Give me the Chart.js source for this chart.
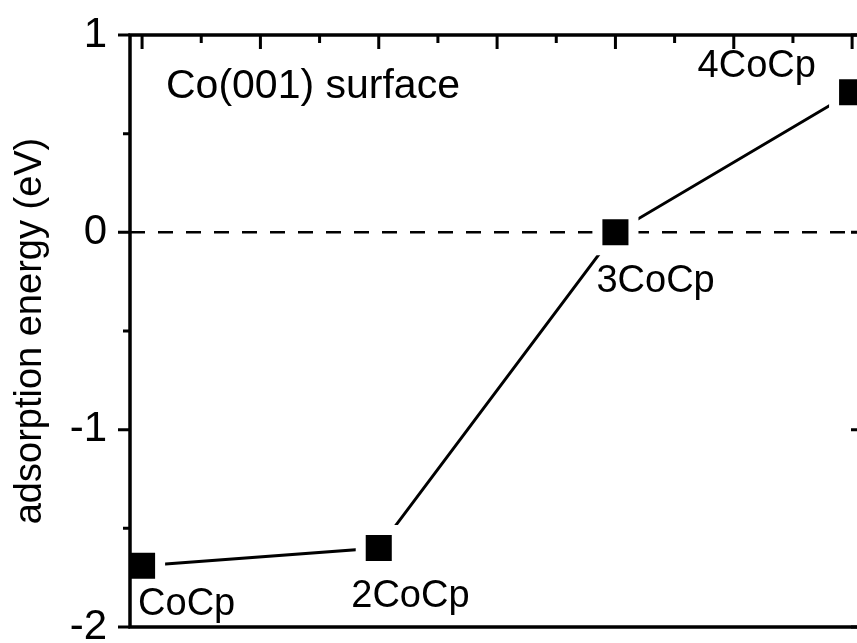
<!DOCTYPE html>
<html>
<head>
<meta charset="utf-8">
<script src="https://cdn.jsdelivr.net/npm/chart.js@4/dist/chart.umd.min.js"></script>
<style>
  html, body { margin: 0; padding: 0; background: #fff; overflow: hidden; }
  #wrap { position: relative; width: 857px; height: 643px; overflow: hidden; }
  #energy_chart { display: block; }
</style>
</head>
<body>
<div id="wrap"><canvas id="energy_chart" width="880" height="643"></canvas></div>
<script>
// adsorption energy vs number of CoCp molecules on Co(001)
const coverage = [1, 2, 3, 4];
const energies = [-1.69, -1.60, 0.00, 0.71];
const pointNames = ['CoCp', '2CoCp', '3CoCp', '4CoCp'];
const yMajor = [-2, -1, 0, 1];
const yMinor = [-1.5, -0.5, 0.5];
const xMajor = [1, 1.5, 2, 2.5, 3, 3.5, 4];
const xMinor = [1.25, 1.75, 2.25, 2.75, 3.25, 3.75];
const zeroLevel = 0;
const panelTitle = 'Co(001) surface';
const yTitle = 'adsorption energy (eV)';

const FONT = '"Liberation Sans", Arial, Helvetica, sans-serif';
// label position relative to its marker (left, baseline)
const labelOffsets = [[-4, 49], [-27.5, 59], [-19, 60], [-154.5, -15.5]];

const zeroLinePlugin = {
    id: 'zeroLine',
    beforeDatasetsDraw(chart) {
        const {ctx, chartArea: a, scales} = chart;
        const y = scales.y.getPixelForValue(zeroLevel);
        ctx.save();
        ctx.strokeStyle = '#000';
        ctx.lineWidth = 2.5;
        ctx.setLineDash([15, 13]);
        ctx.beginPath();
        ctx.moveTo(a.left, y);
        ctx.lineTo(a.right, y);
        ctx.stroke();
        ctx.restore();
    }
};

const framePlugin = {
    id: 'frame',
    afterDatasetsDraw(chart) {
        const {ctx, chartArea: a, scales} = chart;
        const xs = scales.x, ys = scales.y;
        ctx.save();
        ctx.strokeStyle = '#000';
        ctx.lineWidth = 3.5;
        ctx.strokeRect(a.left, a.top, a.right - a.left, a.bottom - a.top);

        ctx.lineWidth = 3;
        ctx.beginPath();
        // left axis: ticks out, right axis: major ticks in
        yMajor.forEach(v => {
            const y = ys.getPixelForValue(v);
            ctx.moveTo(a.left, y); ctx.lineTo(a.left - 12, y);
            ctx.moveTo(a.right, y); ctx.lineTo(a.right - 12, y);
        });
        yMinor.forEach(v => {
            const y = ys.getPixelForValue(v);
            ctx.moveTo(a.left, y); ctx.lineTo(a.left - 7, y);
        });
        // top axis: ticks in
        xMajor.forEach(v => {
            const x = xs.getPixelForValue(v);
            ctx.moveTo(x, a.top); ctx.lineTo(x, a.top + 14);
        });
        xMinor.forEach(v => {
            const x = xs.getPixelForValue(v);
            ctx.moveTo(x, a.top); ctx.lineTo(x, a.top + 8);
        });
        ctx.stroke();

        // point labels
        ctx.fillStyle = '#000';
        ctx.textAlign = 'left';
        ctx.textBaseline = 'alphabetic';
        ctx.font = '38px ' + FONT;
        const meta = chart.getDatasetMeta(0);
        meta.data.forEach((pt, i) => {
            ctx.fillText(pointNames[i], pt.x + labelOffsets[i][0], pt.y + labelOffsets[i][1]);
        });
        ctx.font = '41px ' + FONT;
        ctx.fillText(panelTitle, a.left + 36, a.top + 63);
        ctx.restore();
    }
};

new Chart('energy_chart', {
    type: 'line',
    data: {
        labels: pointNames,
        datasets: [{
            data: coverage.map((c, i) => ({x: c, y: energies[i]})),
            borderColor: '#000',
            borderWidth: 3,
            pointStyle: 'rect',
            pointRadius: 25.5,
            pointBackgroundColor: '#000',
            pointBorderColor: '#fff',
            pointBorderWidth: 10,
            tension: 0,
            clip: false,
        }]
    },
    options: {
        responsive: false,
        animation: false,
        events: [],
        layout: {
            autoPadding: false,
            padding: {top: 35, bottom: 16, left: 0, right: 17}
        },
        plugins: {
            legend: {display: false},
            tooltip: {enabled: false},
        },
        scales: {
            x: {
                type: 'linear',
                min: 0.949,
                max: 4.046,
                display: false,
            },
            y: {
                min: -2,
                max: 1,
                afterFit(scale) {
                    scale.width = 130;
                    scale.paddingTop = 0;
                    scale.paddingBottom = 0;
                },
                grid: {display: false, drawTicks: false},
                border: {display: false},
                ticks: {
                    stepSize: 1,
                    color: '#000',
                    padding: 23,
                    font: {family: FONT, size: 42},
                },
                title: {
                    display: true,
                    text: yTitle,
                    color: '#000',
                    font: {family: FONT, size: 38},
                    padding: {top: 8, bottom: 0},
                },
            }
        }
    },
    plugins: [zeroLinePlugin, framePlugin]
});
</script>
</body>
</html>
